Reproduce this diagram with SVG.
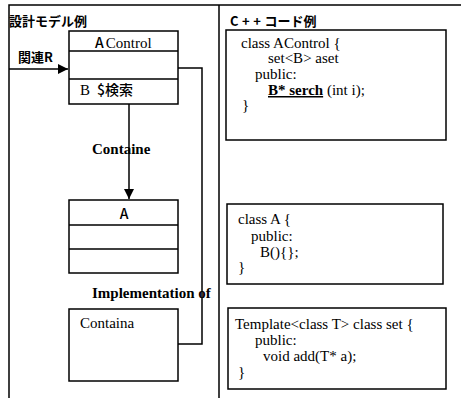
<svg xmlns="http://www.w3.org/2000/svg" width="461" height="398" viewBox="0 0 461 398">
<style>
.ln{stroke:#000;stroke-width:1.5;fill:none}
.bx{stroke:#000;stroke-width:1.5;fill:#fff}
.g{font-family:"Noto Sans CJK JP","Noto Sans",sans-serif;font-weight:bold;font-size:13px;fill:#000}
.gr{font-family:"Noto Sans CJK JP","Noto Sans",sans-serif;font-weight:500;font-size:14px;fill:#000}
.s{font-family:"Liberation Serif",serif;font-size:15px;fill:#000}
.sb{font-family:"Liberation Serif",serif;font-size:15px;font-weight:bold;fill:#000}
</style>
<defs>
<marker id="ah" markerWidth="10" markerHeight="10" refX="10" refY="5" orient="auto" markerUnits="userSpaceOnUse">
<path d="M0,0 L10,5 L0,10 Z" fill="#000"/>
</marker>
</defs>
<rect width="461" height="398" fill="#fff"/>
<g id="frame">
<path class="ln" d="M9,398 V5 H461 M219,5 V398"/>
<text class="g" x="9" y="26">設計モデル例</text>
<text class="g" x="230" y="26"><tspan letter-spacing="3.5">C++</tspan>コード例</text>
</g>
<g id="connectors">
<path class="ln" d="M9,69 H68" marker-end="url(#ah)"/>
<text class="g" x="18" y="62">関連R</text>
<path class="ln" d="M129,104 V199" marker-end="url(#ah)"/>
<text class="sb" x="92" y="154">Containe</text>
<path class="ln" d="M178,68 H202 V344 H178"/>
<text class="sb" x="92" y="298">Implementation of</text>
</g>
<g id="AControl">
<rect class="bx" x="69" y="31" width="109" height="73"/>
<path class="ln" d="M69,51 H178 M69,79 H178"/>
<text x="95" y="48"><tspan class="gr">A</tspan><tspan class="s" dx="2">Control</tspan></text>
<text x="80" y="95"><tspan class="s">B</tspan><tspan class="gr" dx="7">$検索</tspan></text>
</g>
<g id="A">
<rect class="bx" x="69" y="200" width="109" height="73"/>
<path class="ln" d="M69,225 H178 M69,249 H178"/>
<text class="gr" x="124" y="219" text-anchor="middle">A</text>
</g>
<g id="Containa">
<rect class="bx" x="69" y="309" width="109" height="72"/>
<text class="s" x="80" y="328">Containa</text>
</g>
<g id="code1">
<rect class="bx" x="226" y="30" width="220" height="110"/>
<text class="s" x="241" y="48">class AControl {</text>
<text class="s" x="268" y="63">set&lt;B&gt; aset</text>
<text class="s" x="255" y="79">public:</text>
<text class="s" x="268" y="95"><tspan font-weight="bold" text-decoration="underline">B* serch</tspan> (int i);</text>
<text class="s" x="242" y="110">}</text>
</g>
<g id="code2">
<rect class="bx" x="227" y="204" width="216" height="80"/>
<text class="s" x="238" y="224">class A {</text>
<text class="s" x="251" y="241">public:</text>
<text class="s" x="260" y="257">B(){};</text>
<text class="s" x="238" y="272">}</text>
</g>
<g id="code3">
<rect class="bx" x="228" y="308" width="218" height="81"/>
<text class="s" x="235" y="329">Template&lt;class T&gt; class set {</text>
<text class="s" x="255" y="345">public:</text>
<text class="s" x="263" y="361">void add(T* a);</text>
<text class="s" x="238" y="377">}</text>
</g>
</svg>
